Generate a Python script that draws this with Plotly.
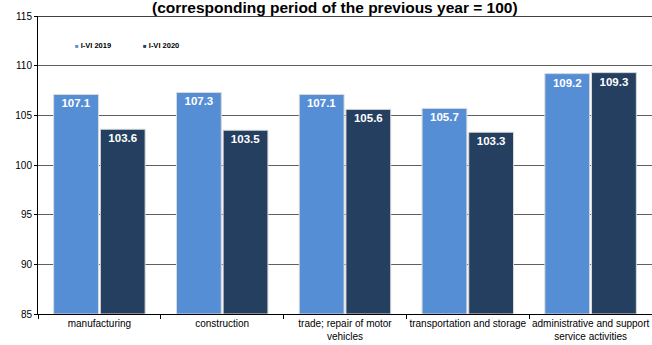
import plotly.graph_objects as go

categories = [
    "manufacturing",
    "construction",
    "trade; repair of motor<br>vehicles",
    "transportation and storage",
    "administrative and support<br>service activities",
]
values_2019 = [107.1, 107.3, 107.1, 105.7, 109.2]
values_2020 = [103.6, 103.5, 105.6, 103.3, 109.3]
series_names = ["I-VI 2019", "I-VI 2020"]
series_colors = ["#558ed5", "#243f60"]
y_ticks = [85, 90, 95, 100, 105, 110, 115]

BASE = 85
FONT = "Liberation Sans, Arial, sans-serif"

fig = go.Figure()
for name, vals, color in zip(series_names, [values_2019, values_2020], series_colors):
    fig.add_trace(go.Bar(
        x=categories,
        y=[v - BASE for v in vals],
        base=BASE,
        name=name,
        showlegend=False,
        marker=dict(color=color, line=dict(color="#d9d9d9", width=1)),
        text=[f"{v:.1f}" for v in vals],
        textposition="inside",
        insidetextanchor="end",
        textangle=0,
        textfont=dict(family=FONT, size=11.5, color="white", weight="bold"),
    ))

# compact legend entries: small coloured square glyph right before the label,
# one legend box per series so they can sit close together
for name, color, leg in zip(series_names, series_colors, ["legend", "legend2"]):
    fig.add_trace(go.Scatter(
        x=[None], y=[None], mode="markers",
        marker=dict(size=1, color="rgba(0,0,0,0)"),
        name=f"<span style='color:{color};font-size:6px'>■</span> {name}",
        showlegend=True, legend=leg,
    ))

fig.add_hline(y=110, line=dict(color="#000000", width=1), layer="below")

fig.add_annotation(
    text="<b>(corresponding period of the previous year = 100)</b>",
    xref="paper", yref="paper", x=0.484, y=1, yanchor="bottom", xanchor="center",
    showarrow=False, font=dict(family=FONT, size=15.5, color="#000000"),
    yshift=-2,
)

legend_style = dict(
    orientation="h", y=0.903, xanchor="left", yanchor="middle",
    font=dict(family=FONT, size=7.5, color="#000000", weight="bold"),
    bgcolor="rgba(0,0,0,0)",
)

fig.update_layout(
    width=652, height=345,
    margin=dict(l=38, r=0, t=16, b=31),
    paper_bgcolor="white", plot_bgcolor="white",
    barmode="group", bargap=0.24, bargroupgap=0.04,
    font=dict(family=FONT, size=10, color="#000000"),
    showlegend=True,
    legend=dict(x=-0.005, **legend_style),
    legend2=dict(x=0.106, **legend_style),
    xaxis=dict(
        showline=True, linecolor="#000000", linewidth=1,
        ticks="outside", tickson="boundaries", ticklen=4, tickcolor="#000000",
        tickfont=dict(family=FONT, size=10, color="#000000"),
        tickangle=0, automargin=False,
        showgrid=False,
    ),
    yaxis=dict(
        range=[85, 115], tickvals=y_ticks,
        showline=True, linecolor="#000000", linewidth=1,
        ticks="outside", ticklen=3, tickcolor="#000000",
        showgrid=True, gridcolor="#5f5f5f", gridwidth=1,
        tickfont=dict(family=FONT, size=10, color="#000000"),
        zeroline=False, automargin=False,
    ),
    shapes=[dict(type="line", xref="paper", yref="y", x0=0, x1=1, y0=115, y1=115,
                 line=dict(color="#000000", width=1.5))],
)

fig.write_html("out.html")
